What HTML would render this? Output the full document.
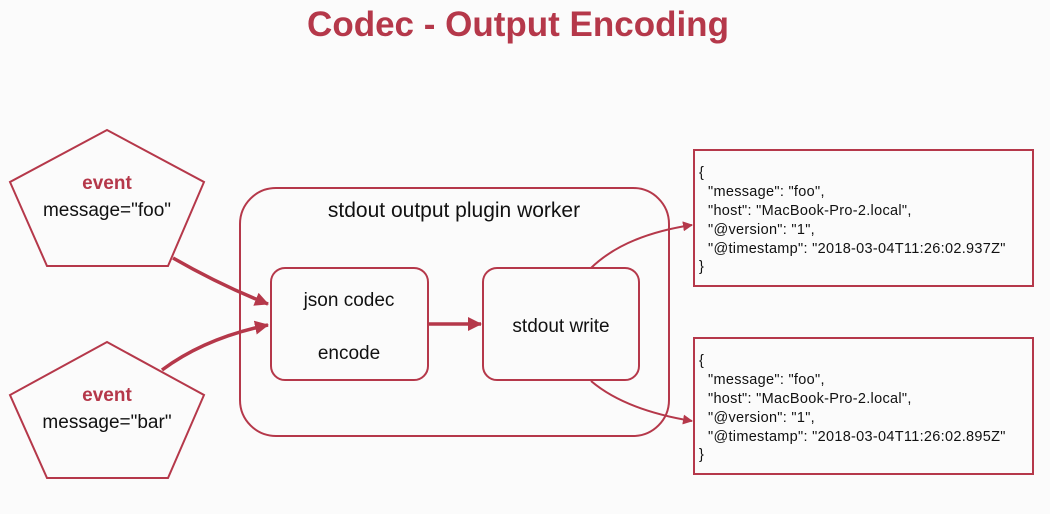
<!DOCTYPE html>
<html><head><meta charset="utf-8"><style>
body{margin:0;background:#fbfbfb;}
svg{display:block;font-family:"Liberation Sans",sans-serif;}
</style></head><body>
<svg width="1050" height="514" viewBox="0 0 1050 514">
<defs><marker id="a" markerWidth="10" markerHeight="10" refX="9" refY="5" orient="auto" markerUnits="userSpaceOnUse"><path d="M0,0 L10,5 L0,10 z" fill="#b5384a"/></marker>
<marker id="b" markerWidth="14" markerHeight="14" refX="13" refY="7" orient="auto" markerUnits="userSpaceOnUse"><path d="M0,0 L14,7 L0,14 z" fill="#b5384a"/></marker></defs>
<text x="518" y="36" text-anchor="middle" font-size="35" font-weight="bold" fill="#b5384a">Codec - Output Encoding</text>
<g fill="none" stroke="#b5384a" stroke-width="2">
<polygon points="107,130 204,182 168,266 47,266 10,182"/>
<polygon points="107,342 204,395 168,478 47,478 10,395"/>
<rect x="240" y="188" width="429" height="248" rx="36"/>
<rect x="271" y="268" width="157" height="112" rx="14"/>
<rect x="483" y="268" width="156" height="112" rx="14"/>
<rect x="694" y="150" width="339" height="136"/>
<rect x="694" y="338" width="339" height="136"/>
<path d="M173,258 Q220,285 268,304" stroke-width="3.5" marker-end="url(#b)"/>
<path d="M162,370 Q205,338 268,325" stroke-width="3.5" marker-end="url(#b)"/>
<path d="M428,324 L481,324" stroke-width="3.5" marker-end="url(#b)"/>
<path d="M591,268 Q625,235 692,225" marker-end="url(#a)"/>
<path d="M591,381 Q625,410 692,421" marker-end="url(#a)"/>
</g>
<g font-size="19" text-anchor="middle" fill="#111">
<text x="107" y="189" font-weight="bold" fill="#b5384a">event</text>
<text x="107" y="216">message="foo"</text>
<text x="107" y="401" font-weight="bold" fill="#b5384a">event</text>
<text x="107" y="428">message="bar"</text>
<text x="454" y="217" font-size="21">stdout output plugin worker</text>
<text x="349" y="306">json codec</text>
<text x="349" y="359">encode</text>
<text x="561" y="332">stdout write</text>
</g>
<g font-size="14.5" letter-spacing="0.3" fill="#111">
<text x="699" y="177">{</text>
<text x="708" y="196">"message": "foo",</text>
<text x="708" y="215">"host": "MacBook-Pro-2.local",</text>
<text x="708" y="234">"@version": "1",</text>
<text x="708" y="253">"@timestamp": "2018-03-04T11:26:02.937Z"</text>
<text x="699" y="271">}</text>
<text x="699" y="365">{</text>
<text x="708" y="384">"message": "foo",</text>
<text x="708" y="403">"host": "MacBook-Pro-2.local",</text>
<text x="708" y="422">"@version": "1",</text>
<text x="708" y="441">"@timestamp": "2018-03-04T11:26:02.895Z"</text>
<text x="699" y="459">}</text>
</g>
</svg>
</body></html>
